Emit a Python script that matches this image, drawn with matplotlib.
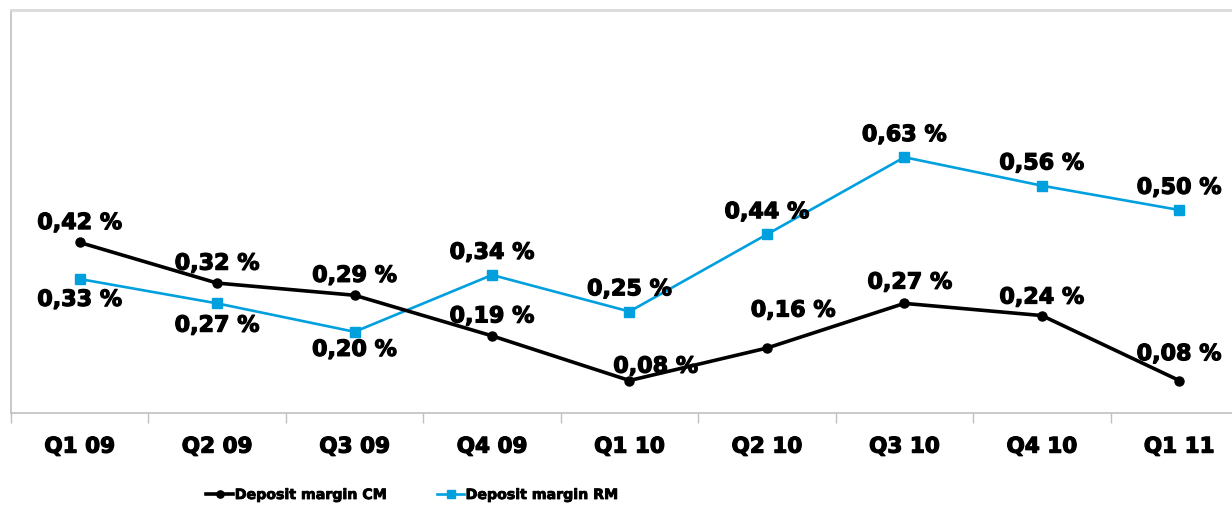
import matplotlib
matplotlib.use("Agg")
import matplotlib.pyplot as plt
import matplotlib.patheffects as pe
from matplotlib.ticker import FixedLocator

# data
quarters = ["Q1 09", "Q2 09", "Q3 09", "Q4 09", "Q1 10", "Q2 10", "Q3 10", "Q4 10", "Q1 11"]
margin_cm = [0.42, 0.32, 0.29, 0.19, 0.08, 0.16, 0.27, 0.24, 0.08]
margin_rm = [0.33, 0.27, 0.20, 0.34, 0.25, 0.44, 0.63, 0.56, 0.50]

# label offsets in points (dx, dy) relative to each point
cm_offsets = [(0, 14), (0, 14), (0, 14), (0, 14), (19, 10), (19, 27), (4, 15), (0, 13), (0, 19)]
rm_offsets = [(0, -15), (0, -16), (0, -13), (0, 16), (0, 16), (0, 16), (0, 16), (0, 16), (0, 16)]

BLUE = "#00a0df"
W, H = 1232, 507
heavy = [pe.withStroke(linewidth=0.9, foreground="black")]

fig = plt.figure(figsize=(W / 100, H / 100), dpi=100)
ax = fig.add_axes([11 / W, (H - 413) / H, 1237 / W, 403 / H])

x = list(range(len(quarters)))
ax.plot(x, margin_cm, color="black", lw=2.6, marker="o", ms=6.5, label="Deposit margin CM", zorder=3)
ax.plot(x, margin_rm, color=BLUE, lw=1.9, marker="s", ms=7.5, label="Deposit margin RM", zorder=2)

def fmt(v):
    return f"{v:.2f}".replace(".", ",") + " %"

for xi, v, (dx, dy) in zip(x, margin_cm, cm_offsets):
    ax.annotate(fmt(v), (xi, v), xytext=(dx, dy), textcoords="offset points",
                ha="center", va="center", fontsize=16, fontweight="bold",
                path_effects=heavy, zorder=5)
for xi, v, (dx, dy) in zip(x, margin_rm, rm_offsets):
    ax.annotate(fmt(v), (xi, v), xytext=(dx, dy), textcoords="offset points",
                ha="center", va="center", fontsize=16, fontweight="bold",
                path_effects=heavy, zorder=5)

ax.set_xlim(-0.5, len(quarters) - 0.5)
ax.set_ylim(0, 403 / 406)
ax.set_xticks(x)
ax.set_xticklabels(quarters, fontsize=15.5, fontweight="bold", path_effects=heavy)
ax.tick_params(axis="x", which="major", length=0, pad=17)
ax.xaxis.set_minor_locator(FixedLocator([i - 0.5 for i in range(len(quarters) + 1)]))
ax.tick_params(axis="x", which="minor", length=7, width=1, color="#c0c0c0")
ax.set_yticks([])

for side in ("left", "bottom"):
    ax.spines[side].set_color("#c0c0c0")
    ax.spines[side].set_linewidth(1.2)
ax.spines["top"].set_color("#dadada")
ax.spines["top"].set_linewidth(2)
ax.spines["right"].set_visible(False)

leg = fig.legend(loc="center", bbox_to_anchor=(412 / W, (H - 495) / H), ncol=2, frameon=False,
                 prop={"size": 10.2, "weight": "bold"}, handlelength=1.9, handletextpad=0.1,
                 columnspacing=3.6, markerscale=0.8)
for t in leg.get_texts():
    t.set_path_effects([pe.withStroke(linewidth=0.6, foreground="black")])

fig.savefig("out.png", dpi=100)
